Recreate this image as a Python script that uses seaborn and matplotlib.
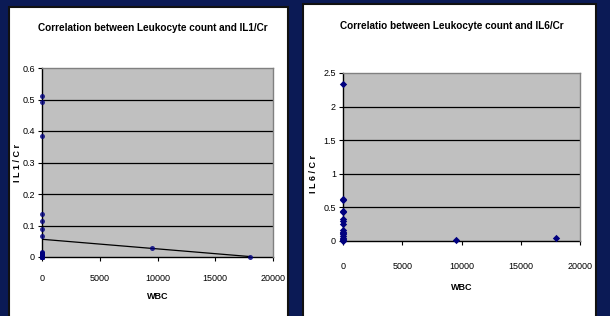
import matplotlib
matplotlib.use("Agg")
import matplotlib.pyplot as plt
import seaborn as sns
import numpy as np
import pandas as pd
from matplotlib.patches import Rectangle

# ---- data ----
il1_wbc = [0]*34 + [9500, 18000]
il1_val = [0.512, 0.493, 0.383, 0.138, 0.115, 0.090, 0.067,
           0.015, 0.013, 0.012, 0.010, 0.009, 0.008, 0.007, 0.006, 0.005,
           0.005, 0.004, 0.004, 0.003, 0.003, 0.002, 0.002, 0.002, 0.001,
           0.001, 0.001, 0.0, 0.0, 0.0, 0.0, 0.0, 0.0, 0.0,
           0.030, 0.0]
il6_wbc = [0]*17 + [9500, 18000]
il6_val = [2.33, 0.63, 0.61, 0.45, 0.43, 0.33, 0.30, 0.26, 0.16, 0.14,
           0.12, 0.10, 0.07, 0.05, 0.03, 0.01, 0.0, 0.01, 0.05]
il1_yticks = [0, 0.1, 0.2, 0.3, 0.4, 0.5, 0.6]
il6_yticks = [0, 0.5, 1, 1.5, 2, 2.5]
il1_yticklabels = ["0", "0.1", "0.2", "0.3", "0.4", "0.5", "0.6"]
il6_yticklabels = ["0", "0.5", "1", "1.5", "2", "2.5"]
xticks = [0, 5000, 10000, 15000, 20000]
titles = ["Correlation between Leukocyte count and IL1/Cr",
          "Correlatio between Leukocyte count and IL6/Cr"]
ylabels = ["I L 1 / C r", "I L 6 / C r"]
xlabel = "WBC"

sns.set_theme(style="white")
plt.rcParams["font.family"] = ["Liberation Sans", "DejaVu Sans"]
plt.rcParams["text.color"] = "black"
plt.rcParams["axes.labelcolor"] = "black"

W, H = 610, 316
fig = plt.figure(figsize=(W/100, H/100), dpi=100)
fig.patch.set_facecolor("#0b1a55")

def px_rect(x0, y0, x1, y1):
    return [x0/W, 1 - y1/H, (x1-x0)/W, (y1-y0)/H]

# panels
for (x0, y0, x1, y1) in [(9, 7, 288, 318), (303, 4, 596, 318)]:
    l, b, w, h = px_rect(x0, y0, x1, y1)
    fig.patches.append(Rectangle((l, b), w, h, transform=fig.transFigure,
                                 facecolor="white", edgecolor="#111111", lw=1.5, zorder=-1))

navy = "#00007f"
grey = "#c0c0c0"
tfs = 7.2
lfs = 6.5

def style_ax(ax, yticks, yticklabels, ymax):
    ax.set_facecolor(grey)
    ax.set_xlim(0, 20000)
    ax.set_ylim(0, ymax)
    ax.set_xticks(xticks)
    ax.set_xticklabels([str(t) for t in xticks])
    ax.set_yticks(yticks)
    ax.set_yticklabels(yticklabels)
    for y in yticks[1:-1]:
        ax.axhline(y, color="black", lw=0.9, zorder=1)
    for s in ["left", "bottom"]:
        ax.spines[s].set_color("black")
        ax.spines[s].set_linewidth(1.0)
        ax.spines[s].set_zorder(2)
    for s in ["top", "right"]:
        ax.spines[s].set_color("#808080")
        ax.spines[s].set_linewidth(1.0)
    ax.tick_params(axis="both", which="both", direction="out", length=3, width=0.8,
                   labelsize=lfs, colors="black", pad=8, bottom=True, left=True)
    ax.tick_params(axis="y", pad=2)

# left
ax1 = fig.add_axes(px_rect(42, 68, 273, 257))
ax1.set_zorder(1)
df1 = pd.DataFrame({"WBC": il1_wbc, "IL1": il1_val})
sns.regplot(data=df1, x="WBC", y="IL1", ax=ax1, ci=None, truncate=True,
            scatter_kws=dict(marker="D", s=13, color=navy, zorder=3, linewidths=0, clip_on=False),
            line_kws=dict(color="black", lw=0.9, zorder=2))
style_ax(ax1, il1_yticks, il1_yticklabels, 0.6)
ax1.tick_params(axis="x", pad=9)
ax1.set_xlabel(xlabel, fontsize=lfs, fontweight="bold", labelpad=7)
ax1.set_ylabel(ylabels[0], fontsize=lfs, fontweight="bold")
ax1.yaxis.set_label_coords(-0.085, 0.5)

# right
ax2 = fig.add_axes(px_rect(343, 73, 580, 241))
ax2.set_zorder(1)
df2 = pd.DataFrame({"WBC": il6_wbc, "IL6": il6_val})
sns.scatterplot(data=df2, x="WBC", y="IL6", ax=ax2, marker="D", s=14,
                color=navy, linewidth=0, zorder=3, clip_on=False)
style_ax(ax2, il6_yticks, il6_yticklabels, 2.5)
ax2.tick_params(axis="x", pad=12)
ax2.set_xlabel(xlabel, fontsize=lfs, fontweight="bold", labelpad=9)
ax2.set_ylabel(ylabels[1], fontsize=lfs, fontweight="bold")
ax2.yaxis.set_label_coords(-0.105, 0.4)

fig.text(153/W, 1 - 28/H, titles[0], ha="center", va="center", fontsize=tfs, fontweight="bold")
fig.text(452/W, 1 - 26/H, titles[1], ha="center", va="center", fontsize=tfs, fontweight="bold")

fig.savefig("out.png", dpi=100, facecolor=fig.get_facecolor())
